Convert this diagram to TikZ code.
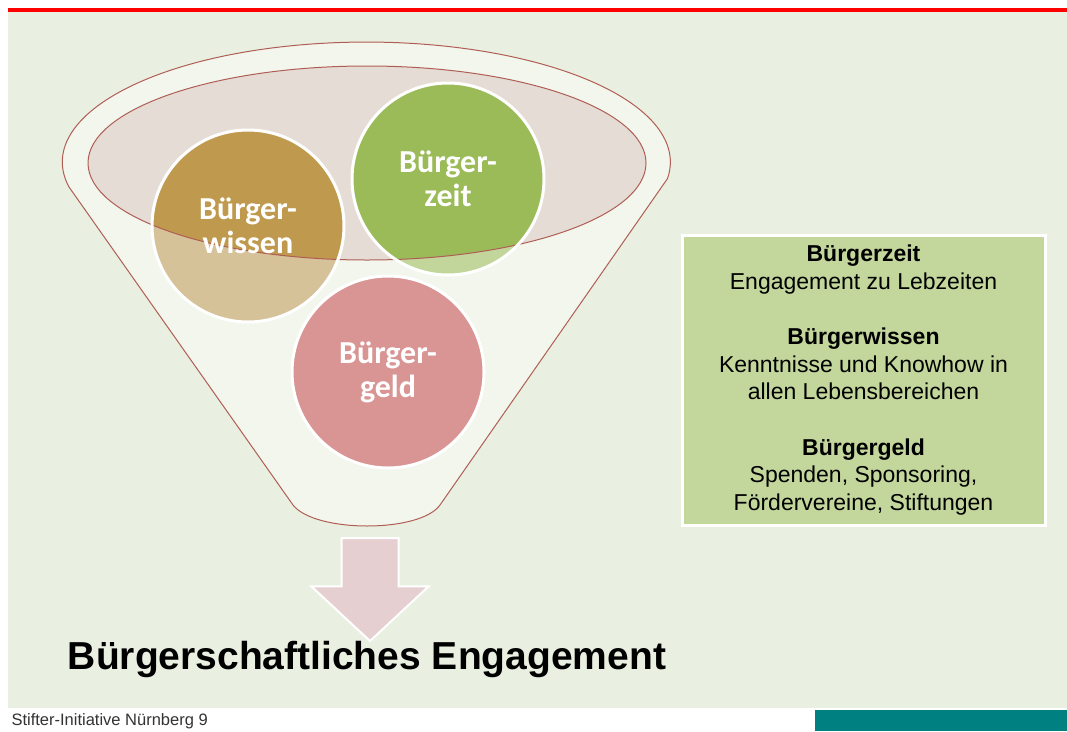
\documentclass[tikz,border=0pt]{standalone}
\usepackage{fontspec}
\setmainfont{Liberation Sans}
\newfontfamily\calibfont{Carlito}
\usetikzlibrary{shapes.arrows, positioning}
\definecolor{slidebg}{HTML}{EAF0E1}
\definecolor{slidered}{HTML}{FF0000}
\definecolor{slideteal}{HTML}{008080}
\definecolor{funnelfill}{HTML}{F2F6EC}
\definecolor{funnelred}{HTML}{B05E55}
\definecolor{innerfill}{HTML}{E5DDD5}
\definecolor{wissendark}{HTML}{BF9A4E}
\definecolor{wissenlight}{HTML}{D6C299}
\definecolor{zeitdark}{HTML}{9BBB59}
\definecolor{zeitlight}{HTML}{C2D69B}
\definecolor{geldpink}{HTML}{D99594}
\definecolor{arrowpink}{HTML}{E6CFD0}
\definecolor{boxgreen}{HTML}{C3D69B}
\tikzstyle{ball} = [circle, minimum size=192pt, draw=white, line width=3pt,
   text=white, align=center, font=\calibfont\bfseries\fontsize{32}{34}\selectfont]
\tikzstyle{funnelline} = [draw=funnelred, line width=1pt]
\tikzstyle{infobox} = [rectangle, fill=boxgreen, draw=white, line width=3pt,
   minimum width=363pt, minimum height=290pt, align=center,
   font=\fontsize{23}{27.7}\selectfont]
\begin{document}
\begin{tikzpicture}[x=1pt, y=-1pt]
  \useasboundingbox (0,0) rectangle (1067,731);
  \fill[white] (0,0) rectangle (1067,731);
  \fill[slidebg] (8,12) rectangle (1067,708);
  \fill[slidered] (8,8) rectangle (1067,12);
  \fill[slideteal] (815,710) rectangle (1067,731);
  % funnel body and its inner rim
  \path[funnelline, fill=funnelfill] (69,187)
    arc[start angle=168, end angle=368, x radius=304, y radius=120]
    -- (440,505) .. controls (420,533) and (315,533) .. (293,505) -- cycle;
  \fill[innerfill] (367,163) ellipse [x radius=279, y radius=97];
  \fill[wissenlight] (248,226) circle (96);
  \fill[zeitlight] (448,179) circle (96);
  \fill[geldpink] (388,372) circle (96);
  \begin{scope}
    \clip (367,163) ellipse [x radius=279, y radius=97];
    \fill[wissendark] (248,226) circle (96);
    \fill[zeitdark] (448,179) circle (96);
  \end{scope}
  \draw[funnelline] (367,163) ellipse [x radius=279, y radius=97];
  \node[ball] (wissen) at (248,226) {Bürger-\\wissen};
  \node[ball] (zeit) at (448,179) {Bürger-\\zeit};
  \node[ball] (geld) at (388,372) {Bürger-\\geld};
  \node[single arrow, fill=arrowpink, draw=white, line width=2pt, rotate=-90,
    anchor=tail, inner xsep=0pt, inner ysep=27.5pt, minimum height=103pt,
    single arrow head extend=30pt, single arrow tip angle=94] (down) at (370,537) {};
  \node[anchor=base, font=\bfseries\fontsize{39}{44}\selectfont] (title)
    at (367,669) {Bürgerschaftliches Engagement};
  \node[infobox] (legend) at (863.5,380) {%
    \textbf{Bürgerzeit}\\Engagement zu Lebzeiten\\[27.7pt]
    \textbf{Bürgerwissen}\\Kenntnisse und Knowhow in\\allen Lebensbereichen\\[27.7pt]
    \textbf{Bürgergeld}\\Spenden, Sponsoring,\\Fördervereine, Stiftungen};
  \node[anchor=base west, font=\fontsize{16.5}{19}\selectfont, text=black!80]
    (footer) at (8,725) {Stifter-Initiative Nürnberg 9};
\end{tikzpicture}
\end{document}
